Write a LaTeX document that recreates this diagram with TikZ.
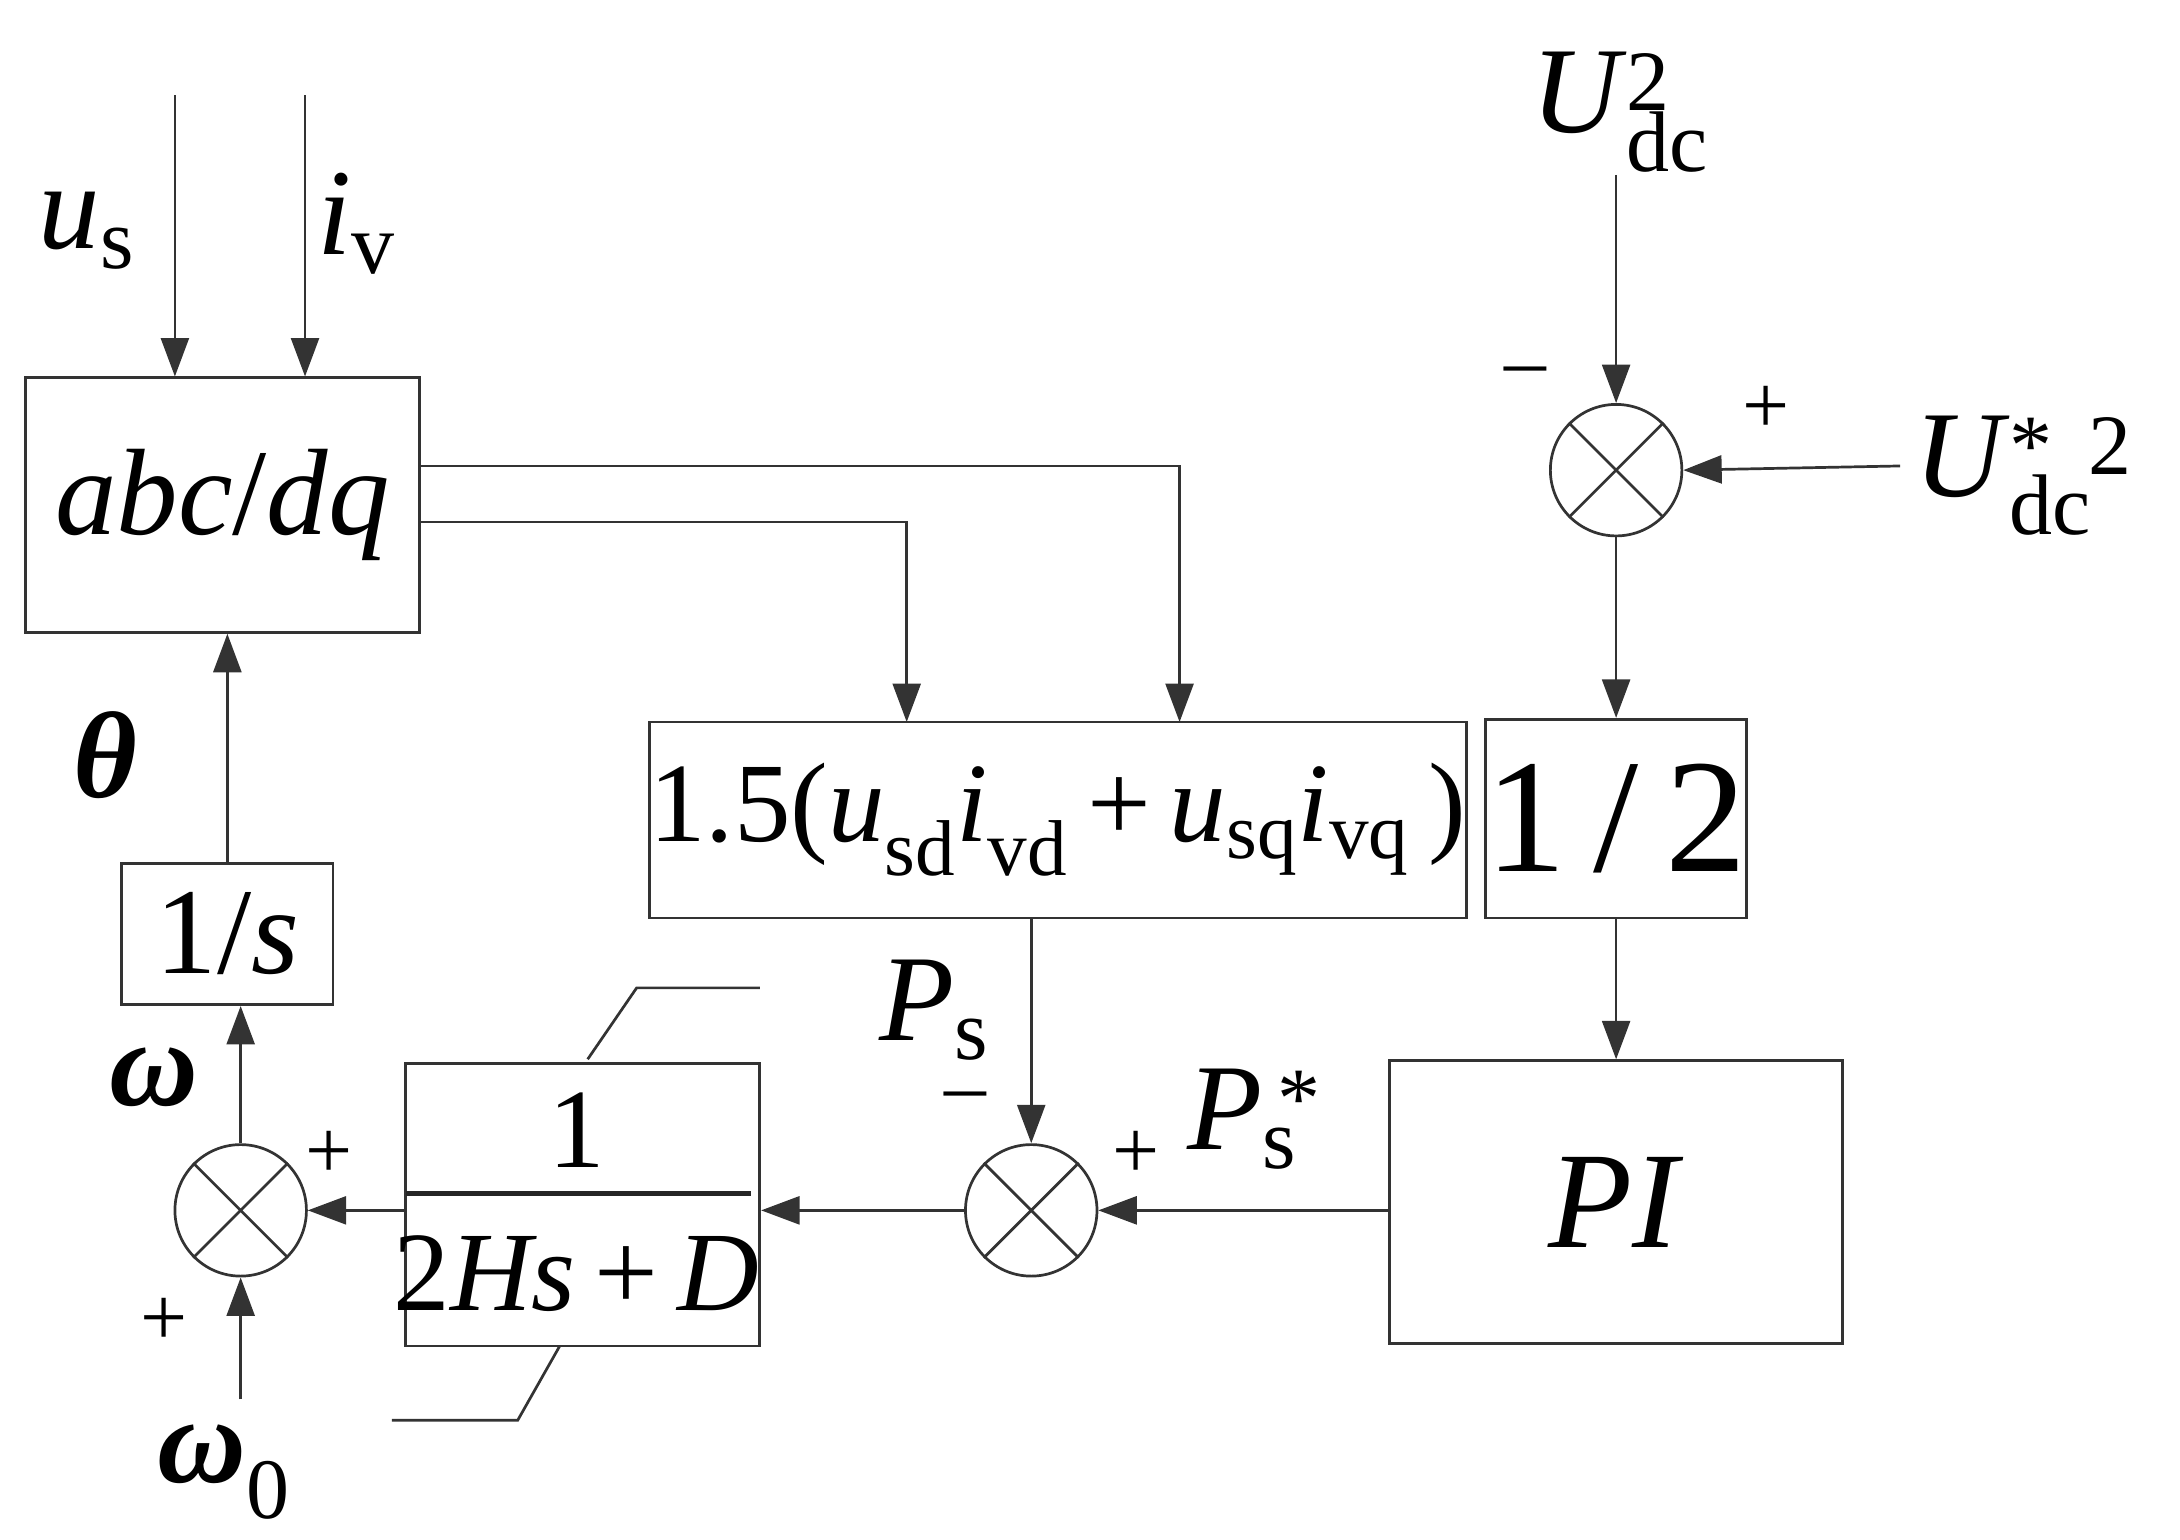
\documentclass[tikz,border=0pt]{standalone}
\usepackage{fontspec}
\setmainfont{Liberation Serif}
\usetikzlibrary{arrows.meta}
\newcommand{\ssb}[1]{\textsubscript{#1}}
\newcommand{\ssp}[1]{\textsuperscript{#1}}
\begin{document}
\begin{tikzpicture}[x=0.02cm,y=-0.02cm,
  ln/.style={draw=black!80,line width=1.1pt},
  ar/.style={ln,-{Triangle[length=0.55cm,width=0.4cm]}},
  blk/.style={draw=black!80,line width=1.1pt,inner sep=0pt},
  sum/.style={draw=black!80,line width=1.1pt,circle,minimum size=1.88cm,inner sep=0pt},
  lbl/.style={font=\fontsize{50}{54}\selectfont},
  sg/.style={font=\fontsize{34}{36}\selectfont}]
\useasboundingbox (0,0) rectangle (1558,1100);
% blocks
\node[blk,minimum width=5.64cm,minimum height=3.64cm,font=\fontsize{50}{54}\selectfont] (abc) at (159,361) {\textit{abc}/\textit{dq}};
\node[blk,minimum width=3.02cm,minimum height=2.02cm,font=\fontsize{50}{54}\selectfont] (ints) at (162.5,667.5) {1/\textit{s}};
\node[blk,minimum width=5.06cm,minimum height=4.04cm] (tf) at (416.5,861) {};
\node[blk,minimum width=10.56cm,minimum height=2.8cm,font=\fontsize{46}{50}\selectfont] (pw) at (756,586) {1.5(\textit{u}\ssb{sd}\textit{i}\ssb{vd}\,+\,\textit{u}\ssb{sq}\textit{i}\ssb{vq}\,)};
\node[blk,minimum width=3.24cm,minimum height=2.84cm,font=\fontsize{66}{70}\selectfont] (half) at (1155,585) {1\,/\,2};
\node[blk,minimum width=6.48cm,minimum height=4.04cm,font=\fontsize{56}{60}\selectfont] (pi) at (1155,859) {\textit{PI}};
% fraction
\node[font=\fontsize{46}{50}\selectfont] (one) at (412,808) {1};
\node[font=\fontsize{46}{50}\selectfont] (den) at (412,910) {2\textit{Hs}\,+\,\textit{D}};
\coordinate (fl) at (290,853); \coordinate (fr) at (537,853);
\draw[line width=2pt,black!85] (fl) -- (fr);
\coordinate (d1) at (420,757); \coordinate (d2) at (455,706); \coordinate (d3) at (543,706);
\coordinate (d4) at (400,962); \coordinate (d5) at (370,1015); \coordinate (d6) at (280,1015);
\draw[ln] (d1)--(d2)--(d3); \draw[ln] (d4)--(d5)--(d6);
% sums
\node[sum] (s1) at (172,865) {};
\node[sum] (s2) at (737,865) {};
\node[sum] (s3) at (1155,336) {};
\foreach \s in {s1,s2,s3}{\draw[ln] (\s.45)--(\s.225) (\s.135)--(\s.315);}
% inputs
\coordinate (us0) at (125,68); \coordinate (iv0) at (218,68);
\draw[ar] (us0) -- (us0 |- abc.north);
\draw[ar] (iv0) -- (iv0 |- abc.north);
\node[lbl] (lus) at (62,165) {\textit{u}\ssb{s}};
\node[lbl] (liv) at (255,160) {\textit{i}\ssb{v}};
\draw[ar] (ints.north) -- (ints.north |- abc.south);
\node[lbl] (lth) at (75,540) {\textbf{\textit{θ}}};
\draw[ar] (s1.north) -- (s1.north |- ints.south);
\node[lbl] (lom) at (110,770) {\textbf{\textit{ω}}};
\coordinate (w0) at (172,1000);
\draw[ar] (w0) -- (s1.south);
\node[lbl] (lw0) at (160,1052) {\textbf{\textit{ω}}\ssb{0}};
\node[sg] at (117,945) {+};
\node[sg] at (235,825) {+};
\draw[ar] (tf.west |- s1) -- (s1.east);
\draw[ar] (s2.west) -- (tf.east |- s2);
\draw[ar] (737,656) -- (s2.north);
\node[lbl] (lps) at (668,722) {\textit{P}\ssb{s}};
\node[sg] at (690,788) {\textendash};
\node[sg] at (812,825) {+};
\node[lbl] (lpss) at (888,800) {\textit{P}\rlap{\ssp{\,*}}\ssb{s}};
\draw[ar] (pi.west |- s2) -- (s2.east);
% abc outputs
\coordinate (o1) at (300,333); \coordinate (o2) at (300,373);
\draw[ar] (o1) -- (843,333) -- (843,516);
\draw[ar] (o2) -- (648,373) -- (648,516);
% dc loop
\coordinate (u0) at (1155,125);
\draw[ar] (u0) -- (s3.north);
\node[lbl] (lu) at (1158,80) {\textit{U}\rlap{\ssp{2}}\ssb{dc}};
\node[sg] at (1090,270) {\textendash};
\node[sg] at (1262,293) {+};
\coordinate (ur) at (1358,333);
\draw[ar] (ur) -- (s3.east);
\node[lbl] (lur) at (1468,340) {\textit{U}\rlap{\ssp{*\ \,2}}\ssb{dc}\phantom{\ssp{*\,2}}};
\draw[ar] (s3.south) -- (half.north);
\draw[ar] (half.south) -- (pi.north);
\end{tikzpicture}
\end{document}
